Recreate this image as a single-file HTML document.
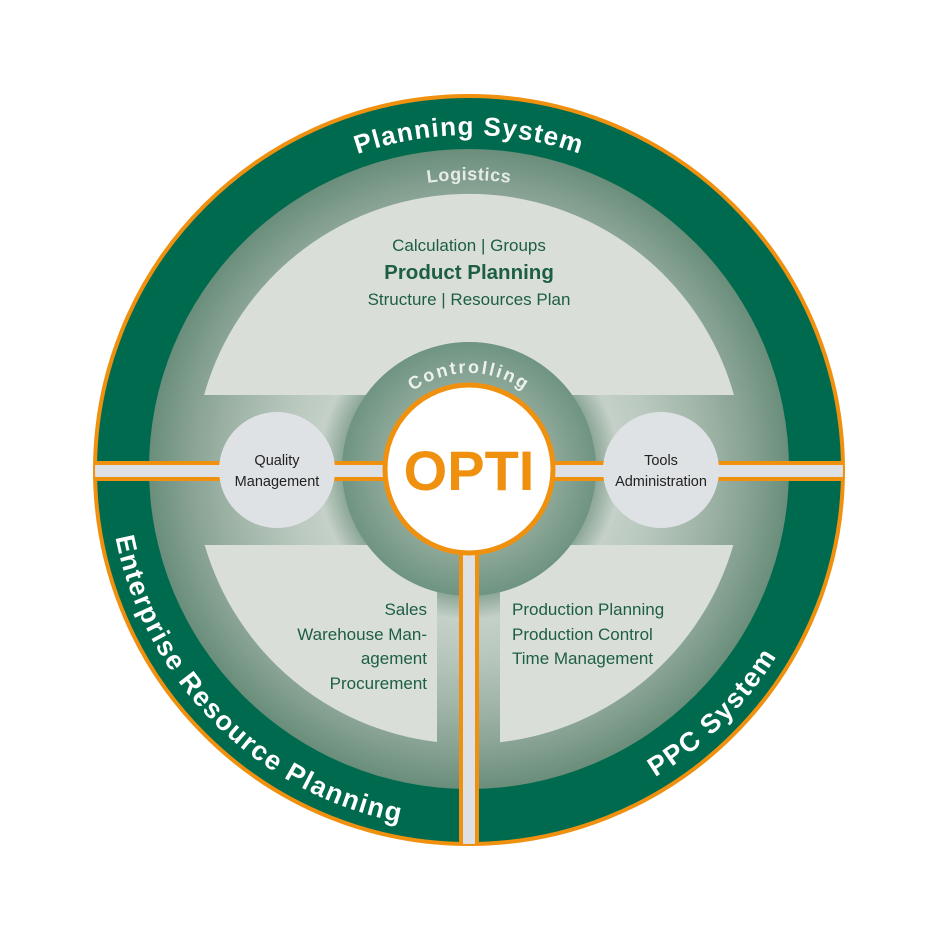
<!DOCTYPE html>
<html><head><meta charset="utf-8"><style>
html,body{margin:0;padding:0;background:#fff;}
svg{display:block;}
text{font-family:"Liberation Sans",sans-serif;}
</style></head><body>
<svg width="940" height="942" viewBox="0 0 940 942" xmlns="http://www.w3.org/2000/svg">
<defs>
<radialGradient id="g1" gradientUnits="userSpaceOnUse" cx="469" cy="469" r="320">
<stop offset="0" stop-color="#6f9380"/>
<stop offset="0.40" stop-color="#8fa999"/>
<stop offset="0.47" stop-color="#c4d0c8"/>
<stop offset="0.58" stop-color="#b9c8be"/>
<stop offset="0.75" stop-color="#9fb4a7"/>
<stop offset="0.88" stop-color="#86a192"/>
<stop offset="1" stop-color="#6a8e7b"/>
</radialGradient>
<radialGradient id="g2" gradientUnits="userSpaceOnUse" cx="469" cy="469" r="127">
<stop offset="0.65" stop-color="#8fa999"/>
<stop offset="1" stop-color="#6f9482"/>
</radialGradient>
<path id="pTop" d="M135,469 A334,334 0 0 1 803,469"/>
<path id="pLog" d="M180,469 A289,289 0 0 1 758,469"/>
<path id="pCtl" d="M373,469 A96,96 0 0 1 565,469"/>
<path id="pErp2" d="M109,469 A360,360 0 0 0 469,829"/>
<path id="pPpc" d="M469,829 A360,360 0 0 0 829,469"/>
<clipPath id="cc"><circle cx="469" cy="470" r="374"/></clipPath>
</defs>
<circle cx="469" cy="470" r="374" fill="#006a4e" stroke="#f0900f" stroke-width="4"/>
<circle cx="469" cy="469" r="320" fill="url(#g1)"/>
<g fill="#d9ded9">
<path d="M204.1,395 A275,275 0 0 1 733.9,395 L572.2,395 A127,127 0 0 0 365.8,395 Z"/>
<path d="M204.7,545 L367.3,545 A127,127 0 0 0 437,592 L437,742 A275,275 0 0 1 204.7,545 Z"/>
<path d="M500,592.2 A127,127 0 0 0 570.7,545 L733.3,545 A275,275 0 0 1 500,742.2 Z"/>
</g>
<circle cx="469" cy="469" r="127" fill="url(#g2)"/>
<g clip-path="url(#cc)">
<rect x="90" y="461" width="760" height="20" fill="#f0900f"/>
<rect x="90" y="465" width="760" height="12" fill="#dde1e4"/>
<rect x="459" y="520" width="20" height="330" fill="#f0900f"/>
<rect x="463" y="520" width="12" height="330" fill="#dde1e4"/>
</g>
<circle cx="469" cy="469" r="84" fill="#fff" stroke="#f0900f" stroke-width="5"/>
<text x="469" y="490" text-anchor="middle" font-size="56" font-weight="bold" fill="#f0900f">OPTI</text>
<circle cx="277" cy="470" r="58" fill="#dfe2e4"/>
<circle cx="661" cy="470" r="58" fill="#dfe2e4"/>
<g font-size="14.5" fill="#222" text-anchor="middle">
<text x="277" y="465">Quality</text>
<text x="277" y="486">Management</text>
<text x="661" y="465">Tools</text>
<text x="661" y="486">Administration</text>
</g>
<text font-size="26" font-weight="bold" fill="#fff" letter-spacing="1.2"><textPath href="#pTop" startOffset="50%" text-anchor="middle">Planning System</textPath></text>
<text font-size="18" font-weight="bold" fill="#e6ebe7" letter-spacing="0.5"><textPath href="#pLog" startOffset="50%" text-anchor="middle">Logistics</textPath></text>
<text font-size="18" font-weight="bold" fill="#eef2ef" letter-spacing="2.2"><textPath href="#pCtl" startOffset="50%" text-anchor="middle">Controlling</textPath></text>
<text font-size="27" font-weight="bold" fill="#fff" letter-spacing="1.5"><textPath href="#pErp2" startOffset="50%" text-anchor="middle">Enterprise Resource Planning</textPath></text>
<text font-size="27" font-weight="bold" fill="#fff" letter-spacing="1.5"><textPath href="#pPpc" startOffset="50%" text-anchor="middle">PPC System</textPath></text>
<g fill="#1d5e45" font-size="17">
<text x="469" y="251" text-anchor="middle">Calculation  |  Groups</text>
<text x="469" y="279" text-anchor="middle" font-size="20.5" font-weight="bold">Product Planning</text>
<text x="469" y="305" text-anchor="middle">Structure  |  Resources Plan</text>
<text x="427" y="615" text-anchor="end">Sales</text>
<text x="427" y="640" text-anchor="end">Warehouse Man-</text>
<text x="427" y="664" text-anchor="end">agement</text>
<text x="427" y="689" text-anchor="end">Procurement</text>
<text x="512" y="615">Production Planning</text>
<text x="512" y="640">Production Control</text>
<text x="512" y="664">Time Management</text>
</g>
</svg>
</body></html>
